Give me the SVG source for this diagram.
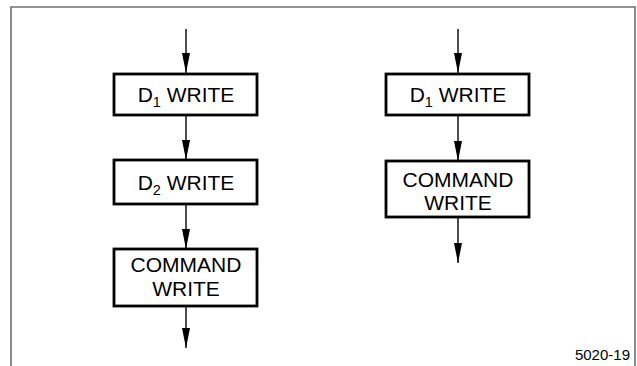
<svg xmlns="http://www.w3.org/2000/svg" width="637" height="366" viewBox="0 0 637 366">
  <style>
    .frame { fill: none; stroke: #707070; stroke-width: 1.6; }
    .box { fill: #ffffff; stroke: #000000; stroke-width: 2.8; }
    .wire { fill: none; stroke: #000000; stroke-width: 1.4; marker-end: url(#head); }
    .label { font-family: "Liberation Sans", Arial, sans-serif; font-size: 21px; fill: #000000; text-anchor: middle; }
    .sub { font-size: 14.5px; }
    .code { font-family: "Liberation Sans", Arial, sans-serif; font-size: 15px; fill: #000000; text-anchor: end; }
  </style>
  <defs>
    <!-- downward arrowhead, tip at the end of the line -->
    <marker id="head" viewBox="0 0 8 20" refX="4" refY="20" markerWidth="8" markerHeight="20" markerUnits="userSpaceOnUse" orient="0">
      <path d="M0,0 L8,0 L4,20 Z" fill="#000000"/>
    </marker>
  </defs>

  <!-- open-bottomed frame -->
  <path class="frame" d="M11,366 V7 H635 V366"/>

  <!-- connectors -->
  <g id="connectors">
    <line class="wire" x1="186" y1="29" x2="186" y2="73"/>
    <line class="wire" x1="186" y1="115" x2="186" y2="160"/>
    <line class="wire" x1="186" y1="204" x2="186" y2="249"/>
    <line class="wire" x1="186" y1="306" x2="186" y2="348"/>
    <line class="wire" x1="458" y1="29" x2="458" y2="73"/>
    <line class="wire" x1="458" y1="115" x2="458" y2="161"/>
    <line class="wire" x1="458" y1="217" x2="458" y2="263"/>
  </g>

  <!-- left sequence -->
  <g id="left-d1-write">
    <rect class="box" x="114" y="74" width="143" height="41"/>
    <text class="label" x="186" y="101.5">D<tspan class="sub" dy="5">1</tspan><tspan dy="-5"> WRITE</tspan></text>
  </g>
  <g id="left-d2-write">
    <rect class="box" x="114" y="160" width="143" height="44"/>
    <text class="label" x="186" y="189.5">D<tspan class="sub" dy="5">2</tspan><tspan dy="-5"> WRITE</tspan></text>
  </g>
  <g id="left-command-write">
    <rect class="box" x="114" y="249" width="143" height="57"/>
    <text class="label" x="186" y="272">COMMAND</text>
    <text class="label" x="186" y="296">WRITE</text>
  </g>

  <!-- right sequence -->
  <g id="right-d1-write">
    <rect class="box" x="386" y="74" width="143" height="41"/>
    <text class="label" x="458" y="101.5">D<tspan class="sub" dy="5">1</tspan><tspan dy="-5"> WRITE</tspan></text>
  </g>
  <g id="right-command-write">
    <rect class="box" x="386" y="161" width="143" height="56"/>
    <text class="label" x="458" y="186.5">COMMAND</text>
    <text class="label" x="458" y="210">WRITE</text>
  </g>

  <text class="code" x="630" y="360">5020-19</text>
</svg>
